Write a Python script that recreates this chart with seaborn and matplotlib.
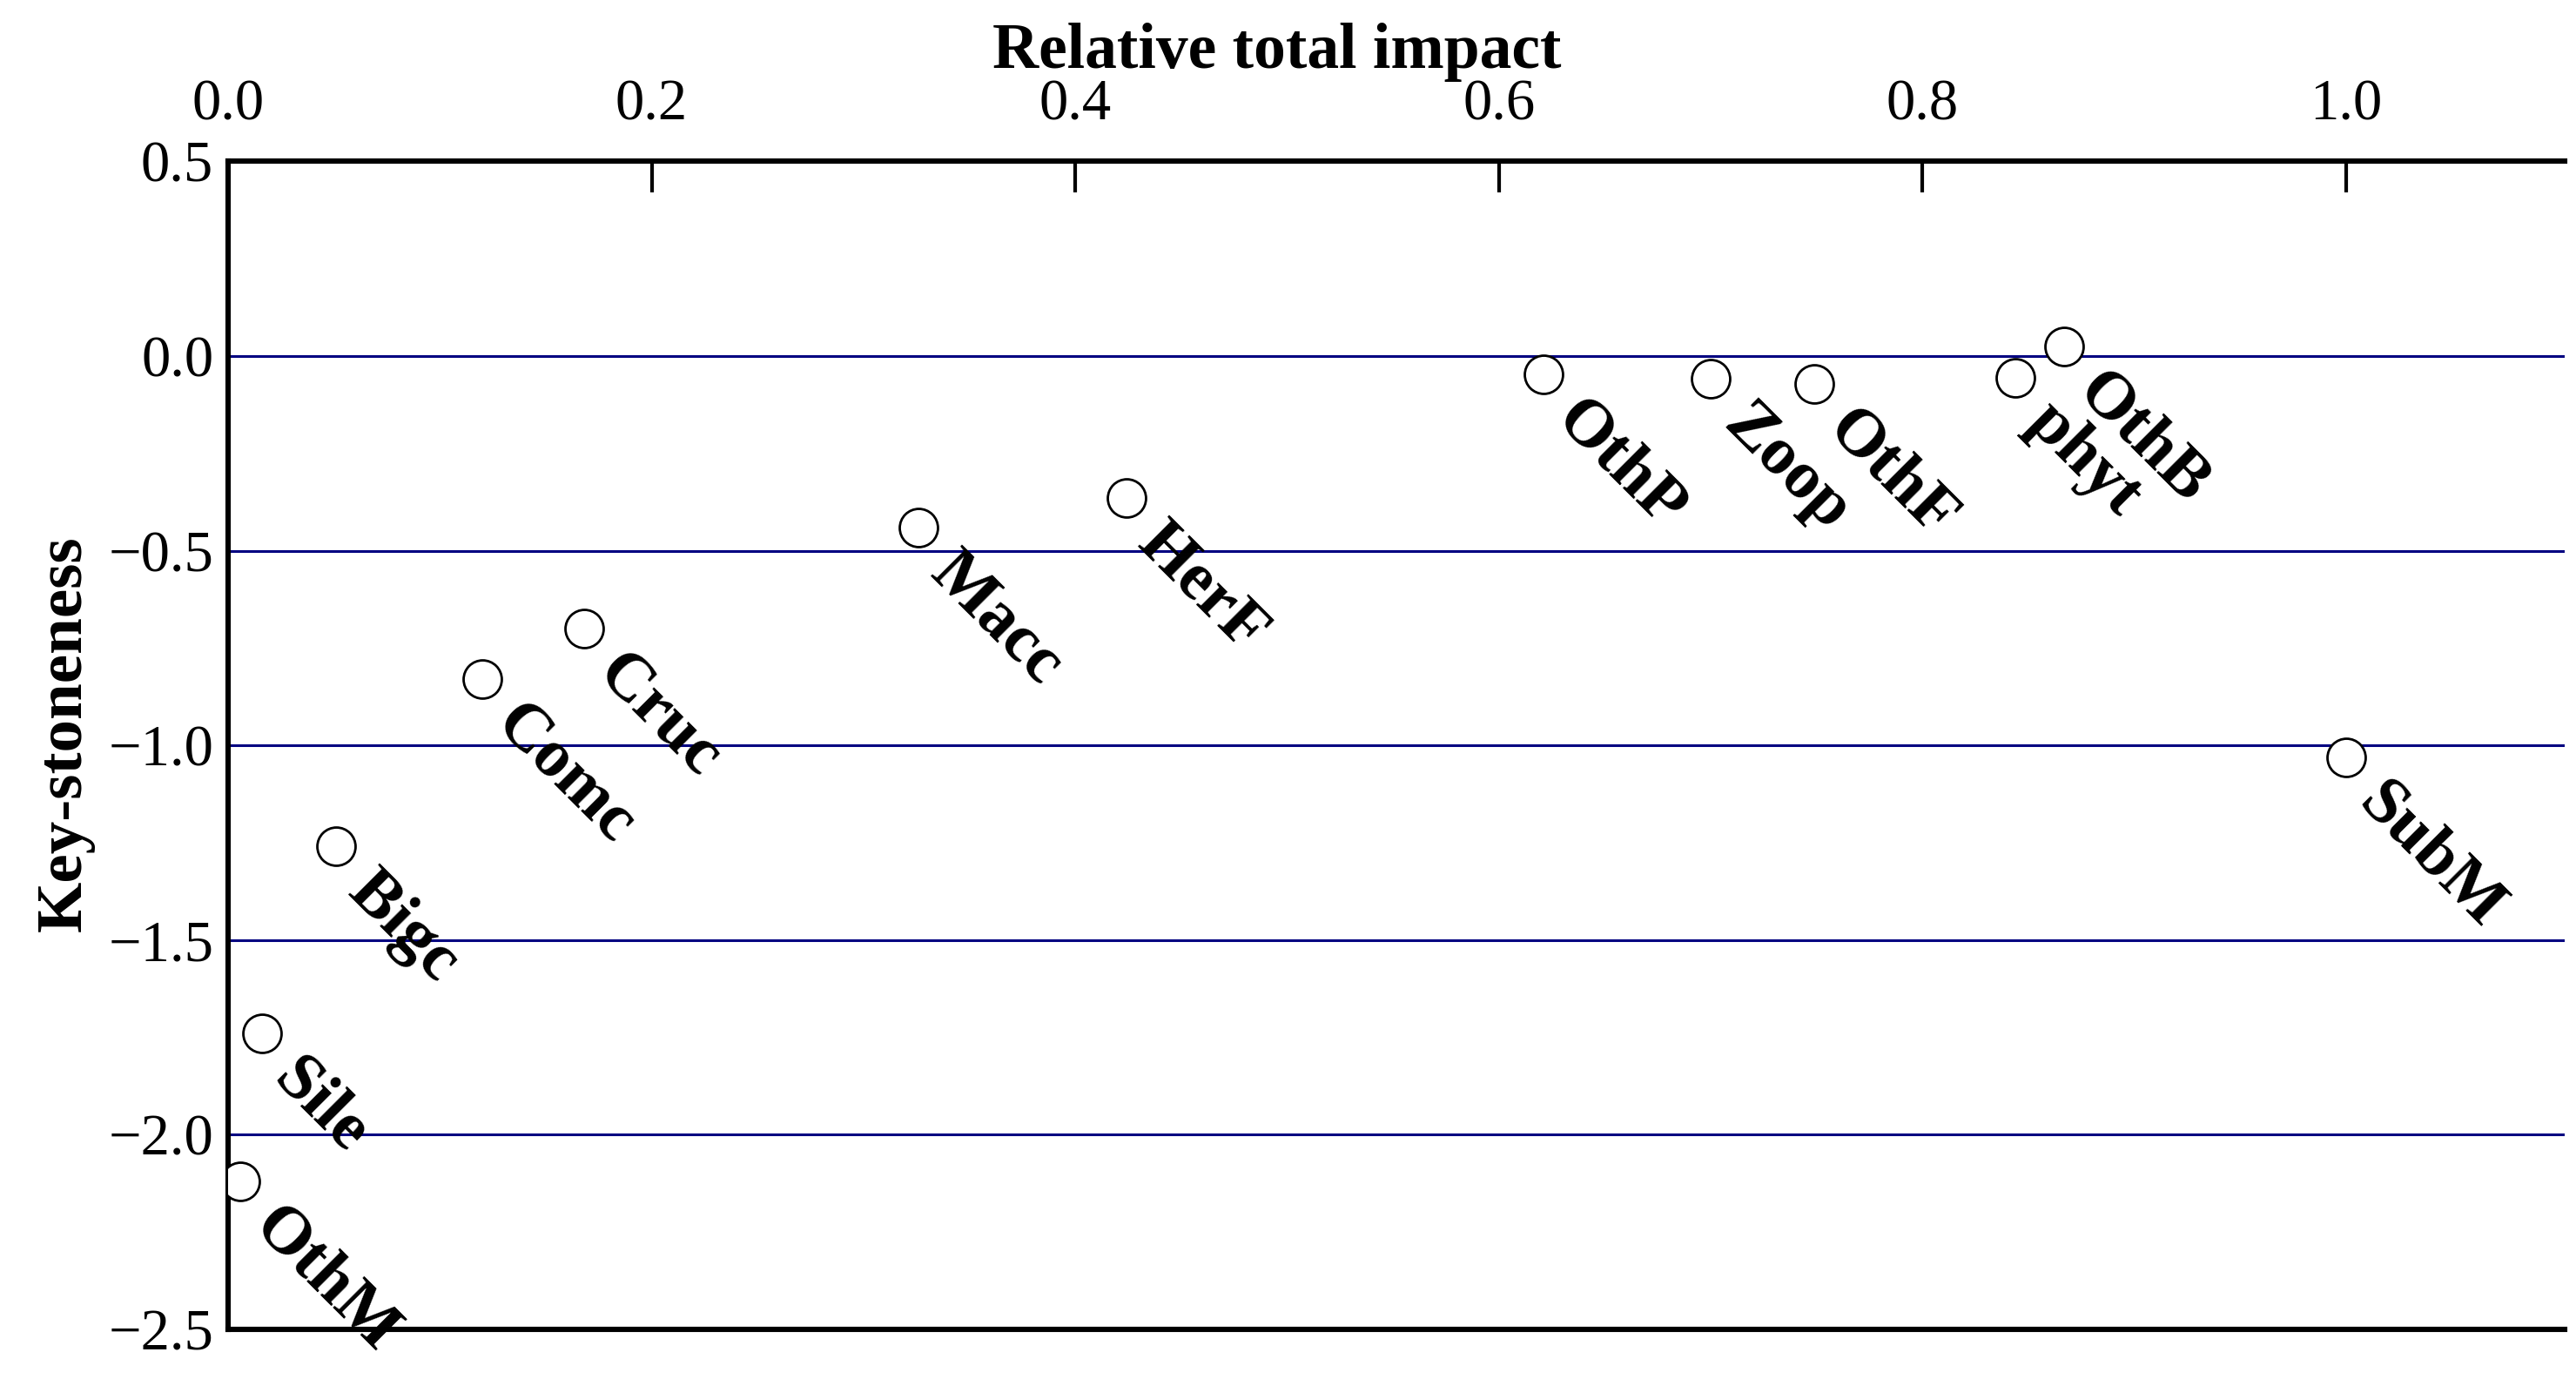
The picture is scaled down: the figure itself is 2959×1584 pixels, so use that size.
import matplotlib
matplotlib.use('Agg')
import matplotlib.pyplot as plt
import seaborn as sns
import pandas as pd

# Data
groups = ['OthM', 'Sile', 'Bigc', 'Comc', 'Cruc', 'Macc', 'HerF',
          'OthP', 'Zoop', 'OthF', 'phyt', 'OthB', 'SubM']
impact = [0.006, 0.016, 0.051, 0.120, 0.168, 0.326, 0.424,
          0.621, 0.700, 0.749, 0.844, 0.867, 1.000]
keystone = [-2.12, -1.74, -1.26, -0.83, -0.70, -0.44, -0.365,
            -0.046, -0.059, -0.071, -0.055, 0.025, -1.03]
x_ticks = [0.0, 0.2, 0.4, 0.6, 0.8, 1.0]
y_ticks = [0.5, 0.0, -0.5, -1.0, -1.5, -2.0, -2.5]

df = pd.DataFrame({'group': groups, 'impact': impact, 'keystone': keystone})

sns.set_style('white')
plt.rcParams['font.family'] = ['Liberation Serif', 'DejaVu Serif']
plt.rcParams['axes.unicode_minus'] = True
plt.rcParams['text.color'] = 'black'
plt.rcParams['axes.labelcolor'] = 'black'
plt.rcParams['xtick.color'] = 'black'
plt.rcParams['ytick.color'] = 'black'

fig = plt.figure(figsize=(14.795, 7.92), dpi=200)
ax = fig.add_axes([0.0885, 0.036, 0.907, 0.847])

# navy horizontal gridlines
for yv in y_ticks[1:-1]:
    ax.axhline(yv, color='#000080', lw=1.1, zorder=1)

sns.scatterplot(data=df, x='impact', y='keystone', ax=ax, marker='o', s=250,
                facecolor='white', edgecolor='black', linewidth=1.0, zorder=3)

for g, xv, yv in zip(groups, impact, keystone):
    ax.annotate(g, (xv, yv), xytext=(18, -6), textcoords='offset points',
                rotation=-45, rotation_mode='anchor', ha='left', va='top',
                fontsize=28, fontweight='bold', color='black', zorder=4)

ax.set_xlim(0, 1.103)
ax.set_ylim(-2.5, 0.5)
ax.set_xticks(x_ticks)
ax.set_yticks(y_ticks)
ax.xaxis.tick_top()
ax.xaxis.set_label_position('top')
ax.tick_params(axis='x', direction='in', length=13, width=1.5, pad=12,
               labelsize=24, top=True, bottom=False)
ax.tick_params(axis='y', direction='in', length=13, width=2.0, pad=6,
               labelsize=24)

for side in ['top', 'left', 'bottom']:
    ax.spines[side].set_linewidth(2.2)
    ax.spines[side].set_color('black')
ax.spines['right'].set_visible(False)

ax.set_xlabel('Relative total impact', fontsize=26.5, fontweight='bold')
ax.xaxis.set_label_coords(0.449, 1.08)
ax.set_ylabel('Key-stoneness', fontsize=27, fontweight='bold')
ax.yaxis.set_label_coords(-0.057, 0.51)

fig.savefig('out.png', dpi=200)
